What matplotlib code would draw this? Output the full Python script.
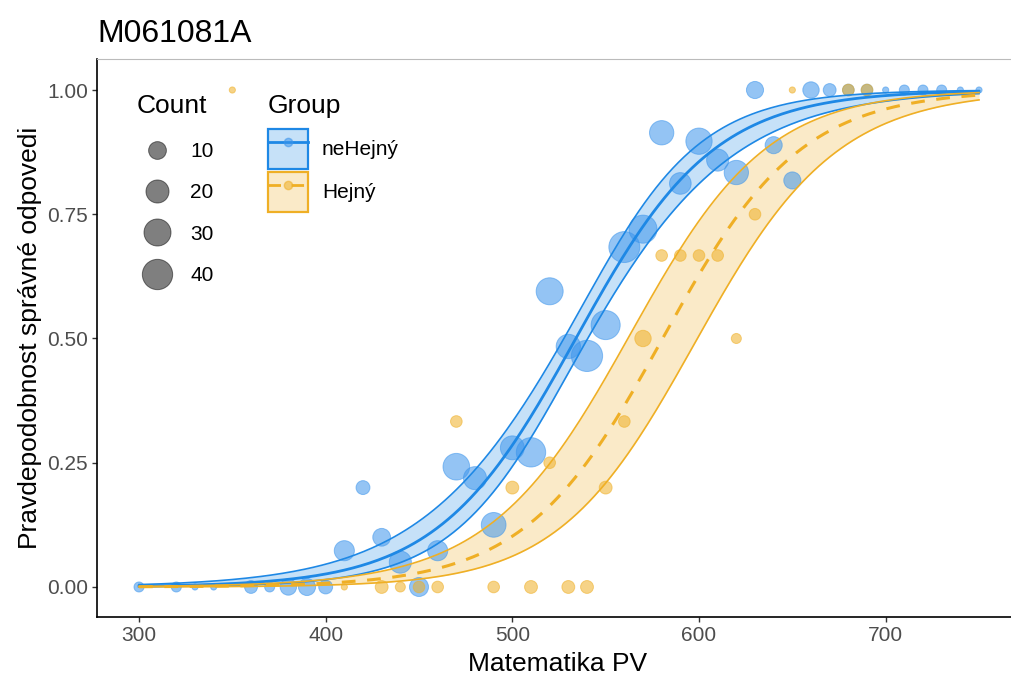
import numpy as np
import matplotlib
matplotlib.use("Agg")
import matplotlib.pyplot as plt
from matplotlib.lines import Line2D
from matplotlib.patches import Patch
from matplotlib.legend_handler import HandlerTuple
from matplotlib.colors import to_rgba

plt.rcParams['font.family'] = ['Liberation Sans', 'DejaVu Sans']

# ---------------- data ----------------
title = "M061081A"
x_label = "Matematika PV"
y_label = "Pravdepodobnost správné odpovedi"
group_names = ["neHejný", "Hejný"]

neh_score = [300, 320, 330, 340, 360, 370, 380, 390, 400, 410, 420, 430, 440, 450,
             460, 470, 480, 490, 500, 510, 520, 530, 540, 550, 560, 570, 580, 590,
             600, 610, 620, 630, 640, 650, 660, 670, 680, 690, 700, 710, 720, 730,
             740, 750]
neh_prop = [0, 0, 0, 0, 0, 0, 0, 0, 0, 0.073, 0.20, 0.10, 0.05, 0,
            0.073, 0.242, 0.219, 0.125, 0.28, 0.271, 0.595, 0.484, 0.465, 0.527, 0.684, 0.72, 0.914, 0.812,
            0.897, 0.859, 0.834, 1.0, 0.889, 0.818, 1, 1, 1, 1, 1, 1, 1, 1,
            1, 1]
neh_count = [2, 2, 1, 1, 4, 2, 8, 9, 5, 14, 5, 10, 18, 12,
             14, 29, 20, 24, 22, 37, 30, 23, 43, 36, 42, 33, 23, 17,
             28, 18, 23, 9, 9, 9, 8, 4, 3, 3, 1, 2, 2, 2,
             1, 1]

hej_score = [350, 410, 430, 440, 450, 460, 470, 490, 500, 510, 520, 530, 540, 550,
             560, 570, 580, 590, 600, 610, 620, 630, 650, 680, 690]
hej_prop = [1, 0, 0, 0, 0, 0, 0.333, 0, 0.2, 0, 0.25, 0, 0, 0.2,
            0.333, 0.5, 0.667, 0.667, 0.667, 0.667, 0.5, 0.75, 1, 1, 1]
hej_count = [1, 1, 4, 2, 3, 3, 3, 3, 4, 4, 3, 4, 4, 4,
             3, 8, 3, 3, 3, 3, 2, 3, 1, 3, 3]

# logistic (glm) fits on the logit scale: intercept, slope, and SE model
neh_fit = dict(b0=-14.418, b1=0.027, se0=0.0867, se1=0.00212, xm=534.0)
hej_fit = dict(b0=-15.674, b1=0.027, se0=0.255, se1=0.00138, xm=580.0)

legend_counts = [10, 20, 30, 40]
x_ticks = [300, 400, 500, 600, 700]
y_ticks = [0.00, 0.25, 0.50, 0.75, 1.00]

# ---------------- style ----------------
W, H = 1012, 679
DPI = 100
blue = "#1E88E5"
blue_pt = "#3D95EC"
yel = "#EFAF25"
yel_pt = "#EFAF25"
pt_alpha = 0.55
band_alpha = 0.25


def size_px(c):
    c = np.asarray(c, dtype=float)
    return 7.0 + 3.87 * np.sqrt(np.maximum(c - 1.0, 0.0))


def to_s(c):
    d_pt = size_px(c) * 72.0 / DPI - 0.6
    return d_pt ** 2


def logistic(z):
    return 1.0 / (1.0 + np.exp(-z))


fig = plt.figure(figsize=(W / DPI, H / DPI), dpi=DPI)
ax = fig.add_axes([97 / W, 1 - 617 / H, (1021 - 97) / W, (617 - 59) / H])

xg = np.linspace(300, 750, 300)


def draw_fit(fit, color, dashed, z):
    lin = fit['b0'] + fit['b1'] * xg
    se = np.sqrt(fit['se0'] ** 2 + fit['se1'] ** 2 * (xg - fit['xm']) ** 2)
    lo = logistic(lin - 1.96 * se)
    hi = logistic(lin + 1.96 * se)
    mid = logistic(lin)
    ax.fill_between(xg, lo, hi, color=color, alpha=band_alpha, lw=0, zorder=z)
    ax.plot(xg, lo, color=color, lw=1.2, zorder=z + 2)
    ax.plot(xg, hi, color=color, lw=1.2, zorder=z + 2)
    if dashed:
        ax.plot(xg, mid, color=color, lw=2.2, ls=(0, (4.5, 3.8)), zorder=z + 2)
    else:
        ax.plot(xg, mid, color=color, lw=2.0, zorder=z + 2)


draw_fit(neh_fit, blue, False, 2)
draw_fit(hej_fit, yel, True, 2)

for sx, sp, sc, col in [(neh_score, neh_prop, neh_count, blue_pt),
                        (hej_score, hej_prop, hej_count, yel_pt)]:
    rgba = to_rgba(col, pt_alpha)
    ax.scatter(sx, sp, s=to_s(sc), facecolor=rgba, edgecolor=rgba, linewidths=0.7, zorder=3)

ax.set_xlim(277.5, 772.5)
ax.set_ylim(-0.0604, 1.0624)
ax.set_xticks(x_ticks)
ax.set_xticklabels([str(v) for v in x_ticks])
ax.set_yticks(y_ticks)
ax.set_yticklabels([f"{v:.2f}" for v in y_ticks])
ax.tick_params(axis='both', labelsize=15, labelcolor="#4D4D4D", color="#333333",
               length=3.6, width=1.0, pad=3)
for s in ['left', 'bottom']:
    ax.spines[s].set_linewidth(1.2)
    ax.spines[s].set_color('black')
ax.spines['top'].set_color('#BBBBBB')
ax.spines['top'].set_linewidth(0.8)
ax.spines['right'].set_visible(False)

fig.text(97 / W, 1 - 42 / H, title, fontsize=23, ha='left', va='baseline')
fig.text(558 / W, 1 - 664 / H, x_label, fontsize=19, ha='center', va='center')
fig.text(30 / W, 1 - 338 / H, y_label, fontsize=19, ha='center', va='center', rotation=90)

HH = 2.577  # gives a 40 px key box

# Count legend
gray = (0, 0, 0, 0.5)
count_handles = [Line2D([], [], ls='none', marker='o',
                        markersize=float(size_px(v)) * 72 / DPI - 0.6,
                        markerfacecolor=gray, markeredgecolor=gray, markeredgewidth=0.7)
                 for v in legend_counts]
leg1 = ax.legend(count_handles, [str(v) for v in legend_counts], title='Count',
                 loc='upper left', bbox_to_anchor=(137 / W, 1 - 94 / H),
                 bbox_transform=fig.transFigure, frameon=False, fontsize=15,
                 title_fontsize=19, handlelength=1.92, handleheight=0.7,
                 handletextpad=0.63, labelspacing=1.07, borderpad=0, borderaxespad=0,
                 alignment='left')
leg1._legend_box.sep = 17.3
ax.add_artist(leg1)

# Group legend
blue_rgba = to_rgba(blue_pt, pt_alpha)
yel_rgba = to_rgba(yel_pt, pt_alpha)
g_handles = [
    (Patch(facecolor=to_rgba(blue, 0.25), edgecolor=blue, linewidth=1.6),
     Line2D([], [], color=blue, lw=2.0, marker='o', markersize=6,
            markerfacecolor=blue_rgba, markeredgecolor=blue_rgba)),
    (Patch(facecolor=to_rgba(yel, 0.25), edgecolor=yel, linewidth=1.6),
     Line2D([], [], color=yel, lw=2.0, ls=(0, (4.5, 3.8)), marker='o', markersize=6,
            markerfacecolor=yel_rgba, markeredgecolor=yel_rgba)),
]
leg2 = ax.legend(g_handles, group_names, title='Group',
                 handler_map={tuple: HandlerTuple(ndivide=1)},
                 loc='upper left', bbox_to_anchor=(268 / W, 1 - 94 / H),
                 bbox_transform=fig.transFigure, frameon=False, fontsize=15,
                 title_fontsize=19, handlelength=1.92, handleheight=HH,
                 handletextpad=0.67, labelspacing=0.144, borderpad=0, borderaxespad=0,
                 alignment='left')
leg2._legend_box.sep = 8.0

fig.savefig("out.png", dpi=DPI)
